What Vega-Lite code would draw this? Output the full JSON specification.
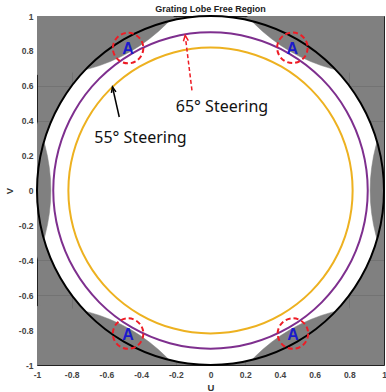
{
  "$schema": "https://vega.github.io/schema/vega-lite/v6.json",
  "width": 347,
  "height": 349,
  "autosize": {"type": "none"},
  "padding": {"left": 37, "top": 16, "right": 2, "bottom": 27},
  "background": "white",
  "title": {"text": "Grating Lobe Free Region", "fontSize": 9, "font": "Liberation Sans", "fontWeight": "bold", "color": "#222222", "offset": -2, "frame": "group"},
  "config": {
    "view": {"fill": "#808080", "stroke": "#262626", "strokeWidth": 1},
    "axis": {
      "labelFont": "Liberation Sans", "labelFontSize": 8.5, "labelFontWeight": "bold", "labelColor": "#444444",
      "titleFont": "Liberation Sans", "titleFontSize": 9.5, "titleFontWeight": "bold", "titleColor": "#333333",
      "domain": false, "ticks": false, "gridColor": "#000000", "gridOpacity": 0.1, "zindex": 1,
      "labelFlush": false, "labelOverlap": false, "labelBound": false,
      "values": [-1, -0.8, -0.6, -0.4, -0.2, 0, 0.2, 0.4, 0.6, 0.8, 1],
      "labelExpr": "datum.value == 0 ? '0' : (datum.value < 0 ? '-' : '') + format(abs(datum.value), '~g')"
    }
  },
  "datasets": {
    "circles": [
      {"c":"unit","i":0,"u":1,"v":0},{"c":"unit","i":1,"u":0.9659,"v":0.2588},{"c":"unit","i":2,"u":0.866,"v":0.5},{"c":"unit","i":3,"u":0.7071,"v":0.7071},{"c":"unit","i":4,"u":0.5,"v":0.866},{"c":"unit","i":5,"u":0.2588,"v":0.9659},{"c":"unit","i":6,"u":0,"v":1},{"c":"unit","i":7,"u":-0.2588,"v":0.9659},{"c":"unit","i":8,"u":-0.5,"v":0.866},{"c":"unit","i":9,"u":-0.7071,"v":0.7071},{"c":"unit","i":10,"u":-0.866,"v":0.5},{"c":"unit","i":11,"u":-0.9659,"v":0.2588},{"c":"unit","i":12,"u":-1,"v":0},{"c":"unit","i":13,"u":-0.9659,"v":-0.2588},{"c":"unit","i":14,"u":-0.866,"v":-0.5},{"c":"unit","i":15,"u":-0.7071,"v":-0.7071},{"c":"unit","i":16,"u":-0.5,"v":-0.866},{"c":"unit","i":17,"u":-0.2588,"v":-0.9659},{"c":"unit","i":18,"u":0,"v":-1},{"c":"unit","i":19,"u":0.2588,"v":-0.9659},{"c":"unit","i":20,"u":0.5,"v":-0.866},{"c":"unit","i":21,"u":0.7071,"v":-0.7071},{"c":"unit","i":22,"u":0.866,"v":-0.5},{"c":"unit","i":23,"u":0.9659,"v":-0.2588},
      {"c":"p","i":0,"u":0.9063,"v":0},{"c":"p","i":1,"u":0.8754,"v":0.2346},{"c":"p","i":2,"u":0.7849,"v":0.4532},{"c":"p","i":3,"u":0.6409,"v":0.6409},{"c":"p","i":4,"u":0.4532,"v":0.7849},{"c":"p","i":5,"u":0.2346,"v":0.8754},{"c":"p","i":6,"u":0,"v":0.9063},{"c":"p","i":7,"u":-0.2346,"v":0.8754},{"c":"p","i":8,"u":-0.4532,"v":0.7849},{"c":"p","i":9,"u":-0.6409,"v":0.6409},{"c":"p","i":10,"u":-0.7849,"v":0.4532},{"c":"p","i":11,"u":-0.8754,"v":0.2346},{"c":"p","i":12,"u":-0.9063,"v":0},{"c":"p","i":13,"u":-0.8754,"v":-0.2346},{"c":"p","i":14,"u":-0.7849,"v":-0.4532},{"c":"p","i":15,"u":-0.6409,"v":-0.6409},{"c":"p","i":16,"u":-0.4532,"v":-0.7849},{"c":"p","i":17,"u":-0.2346,"v":-0.8754},{"c":"p","i":18,"u":0,"v":-0.9063},{"c":"p","i":19,"u":0.2346,"v":-0.8754},{"c":"p","i":20,"u":0.4532,"v":-0.7849},{"c":"p","i":21,"u":0.6409,"v":-0.6409},{"c":"p","i":22,"u":0.7849,"v":-0.4532},{"c":"p","i":23,"u":0.8754,"v":-0.2346},
      {"c":"o","i":0,"u":0.8192,"v":0},{"c":"o","i":1,"u":0.7913,"v":0.212},{"c":"o","i":2,"u":0.7094,"v":0.4096},{"c":"o","i":3,"u":0.5793,"v":0.5793},{"c":"o","i":4,"u":0.4096,"v":0.7094},{"c":"o","i":5,"u":0.212,"v":0.7913},{"c":"o","i":6,"u":0,"v":0.8192},{"c":"o","i":7,"u":-0.212,"v":0.7913},{"c":"o","i":8,"u":-0.4096,"v":0.7094},{"c":"o","i":9,"u":-0.5793,"v":0.5793},{"c":"o","i":10,"u":-0.7094,"v":0.4096},{"c":"o","i":11,"u":-0.7913,"v":0.212},{"c":"o","i":12,"u":-0.8192,"v":0},{"c":"o","i":13,"u":-0.7913,"v":-0.212},{"c":"o","i":14,"u":-0.7094,"v":-0.4096},{"c":"o","i":15,"u":-0.5793,"v":-0.5793},{"c":"o","i":16,"u":-0.4096,"v":-0.7094},{"c":"o","i":17,"u":-0.212,"v":-0.7913},{"c":"o","i":18,"u":0,"v":-0.8192},{"c":"o","i":19,"u":0.212,"v":-0.7913},{"c":"o","i":20,"u":0.4096,"v":-0.7094},{"c":"o","i":21,"u":0.5793,"v":-0.5793},{"c":"o","i":22,"u":0.7094,"v":-0.4096},{"c":"o","i":23,"u":0.7913,"v":-0.212},
      {"c":"L1","i":0,"u":2.92,"v":0},{"c":"L1","i":1,"u":2.8859,"v":0.2588},{"c":"L1","i":2,"u":2.786,"v":0.5},{"c":"L1","i":3,"u":2.6271,"v":0.7071},{"c":"L1","i":4,"u":2.42,"v":0.866},{"c":"L1","i":5,"u":2.1788,"v":0.9659},{"c":"L1","i":6,"u":1.92,"v":1},{"c":"L1","i":7,"u":1.6612,"v":0.9659},{"c":"L1","i":8,"u":1.42,"v":0.866},{"c":"L1","i":9,"u":1.2129,"v":0.7071},{"c":"L1","i":10,"u":1.054,"v":0.5},{"c":"L1","i":11,"u":0.9541,"v":0.2588},{"c":"L1","i":12,"u":0.92,"v":0},{"c":"L1","i":13,"u":0.9541,"v":-0.2588},{"c":"L1","i":14,"u":1.054,"v":-0.5},{"c":"L1","i":15,"u":1.2129,"v":-0.7071},{"c":"L1","i":16,"u":1.42,"v":-0.866},{"c":"L1","i":17,"u":1.6612,"v":-0.9659},{"c":"L1","i":18,"u":1.92,"v":-1},{"c":"L1","i":19,"u":2.1788,"v":-0.9659},{"c":"L1","i":20,"u":2.42,"v":-0.866},{"c":"L1","i":21,"u":2.6271,"v":-0.7071},{"c":"L1","i":22,"u":2.786,"v":-0.5},{"c":"L1","i":23,"u":2.8859,"v":-0.2588},
      {"c":"L2","i":0,"u":-0.92,"v":0},{"c":"L2","i":1,"u":-0.9541,"v":0.2588},{"c":"L2","i":2,"u":-1.054,"v":0.5},{"c":"L2","i":3,"u":-1.2129,"v":0.7071},{"c":"L2","i":4,"u":-1.42,"v":0.866},{"c":"L2","i":5,"u":-1.6612,"v":0.9659},{"c":"L2","i":6,"u":-1.92,"v":1},{"c":"L2","i":7,"u":-2.1788,"v":0.9659},{"c":"L2","i":8,"u":-2.42,"v":0.866},{"c":"L2","i":9,"u":-2.6271,"v":0.7071},{"c":"L2","i":10,"u":-2.786,"v":0.5},{"c":"L2","i":11,"u":-2.8859,"v":0.2588},{"c":"L2","i":12,"u":-2.92,"v":0},{"c":"L2","i":13,"u":-2.8859,"v":-0.2588},{"c":"L2","i":14,"u":-2.786,"v":-0.5},{"c":"L2","i":15,"u":-2.6271,"v":-0.7071},{"c":"L2","i":16,"u":-2.42,"v":-0.866},{"c":"L2","i":17,"u":-2.1788,"v":-0.9659},{"c":"L2","i":18,"u":-1.92,"v":-1},{"c":"L2","i":19,"u":-1.6612,"v":-0.9659},{"c":"L2","i":20,"u":-1.42,"v":-0.866},{"c":"L2","i":21,"u":-1.2129,"v":-0.7071},{"c":"L2","i":22,"u":-1.054,"v":-0.5},{"c":"L2","i":23,"u":-0.9541,"v":-0.2588},
      {"c":"L3","i":0,"u":1.96,"v":1.663},{"c":"L3","i":1,"u":1.9259,"v":1.9218},{"c":"L3","i":2,"u":1.826,"v":2.163},{"c":"L3","i":3,"u":1.6671,"v":2.3701},{"c":"L3","i":4,"u":1.46,"v":2.529},{"c":"L3","i":5,"u":1.2188,"v":2.6289},{"c":"L3","i":6,"u":0.96,"v":2.663},{"c":"L3","i":7,"u":0.7012,"v":2.6289},{"c":"L3","i":8,"u":0.46,"v":2.529},{"c":"L3","i":9,"u":0.2529,"v":2.3701},{"c":"L3","i":10,"u":0.094,"v":2.163},{"c":"L3","i":11,"u":-0.0059,"v":1.9218},{"c":"L3","i":12,"u":-0.04,"v":1.663},{"c":"L3","i":13,"u":-0.0059,"v":1.4042},{"c":"L3","i":14,"u":0.094,"v":1.163},{"c":"L3","i":15,"u":0.2529,"v":0.9559},{"c":"L3","i":16,"u":0.46,"v":0.797},{"c":"L3","i":17,"u":0.7012,"v":0.6971},{"c":"L3","i":18,"u":0.96,"v":0.663},{"c":"L3","i":19,"u":1.2188,"v":0.6971},{"c":"L3","i":20,"u":1.46,"v":0.797},{"c":"L3","i":21,"u":1.6671,"v":0.9559},{"c":"L3","i":22,"u":1.826,"v":1.163},{"c":"L3","i":23,"u":1.9259,"v":1.4042},
      {"c":"L4","i":0,"u":0.04,"v":1.663},{"c":"L4","i":1,"u":0.0059,"v":1.9218},{"c":"L4","i":2,"u":-0.094,"v":2.163},{"c":"L4","i":3,"u":-0.2529,"v":2.3701},{"c":"L4","i":4,"u":-0.46,"v":2.529},{"c":"L4","i":5,"u":-0.7012,"v":2.6289},{"c":"L4","i":6,"u":-0.96,"v":2.663},{"c":"L4","i":7,"u":-1.2188,"v":2.6289},{"c":"L4","i":8,"u":-1.46,"v":2.529},{"c":"L4","i":9,"u":-1.6671,"v":2.3701},{"c":"L4","i":10,"u":-1.826,"v":2.163},{"c":"L4","i":11,"u":-1.9259,"v":1.9218},{"c":"L4","i":12,"u":-1.96,"v":1.663},{"c":"L4","i":13,"u":-1.9259,"v":1.4042},{"c":"L4","i":14,"u":-1.826,"v":1.163},{"c":"L4","i":15,"u":-1.6671,"v":0.9559},{"c":"L4","i":16,"u":-1.46,"v":0.797},{"c":"L4","i":17,"u":-1.2188,"v":0.6971},{"c":"L4","i":18,"u":-0.96,"v":0.663},{"c":"L4","i":19,"u":-0.7012,"v":0.6971},{"c":"L4","i":20,"u":-0.46,"v":0.797},{"c":"L4","i":21,"u":-0.2529,"v":0.9559},{"c":"L4","i":22,"u":-0.094,"v":1.163},{"c":"L4","i":23,"u":0.0059,"v":1.4042},
      {"c":"L5","i":0,"u":1.96,"v":-1.663},{"c":"L5","i":1,"u":1.9259,"v":-1.4042},{"c":"L5","i":2,"u":1.826,"v":-1.163},{"c":"L5","i":3,"u":1.6671,"v":-0.9559},{"c":"L5","i":4,"u":1.46,"v":-0.797},{"c":"L5","i":5,"u":1.2188,"v":-0.6971},{"c":"L5","i":6,"u":0.96,"v":-0.663},{"c":"L5","i":7,"u":0.7012,"v":-0.6971},{"c":"L5","i":8,"u":0.46,"v":-0.797},{"c":"L5","i":9,"u":0.2529,"v":-0.9559},{"c":"L5","i":10,"u":0.094,"v":-1.163},{"c":"L5","i":11,"u":-0.0059,"v":-1.4042},{"c":"L5","i":12,"u":-0.04,"v":-1.663},{"c":"L5","i":13,"u":-0.0059,"v":-1.9218},{"c":"L5","i":14,"u":0.094,"v":-2.163},{"c":"L5","i":15,"u":0.2529,"v":-2.3701},{"c":"L5","i":16,"u":0.46,"v":-2.529},{"c":"L5","i":17,"u":0.7012,"v":-2.6289},{"c":"L5","i":18,"u":0.96,"v":-2.663},{"c":"L5","i":19,"u":1.2188,"v":-2.6289},{"c":"L5","i":20,"u":1.46,"v":-2.529},{"c":"L5","i":21,"u":1.6671,"v":-2.3701},{"c":"L5","i":22,"u":1.826,"v":-2.163},{"c":"L5","i":23,"u":1.9259,"v":-1.9218},
      {"c":"L6","i":0,"u":0.04,"v":-1.663},{"c":"L6","i":1,"u":0.0059,"v":-1.4042},{"c":"L6","i":2,"u":-0.094,"v":-1.163},{"c":"L6","i":3,"u":-0.2529,"v":-0.9559},{"c":"L6","i":4,"u":-0.46,"v":-0.797},{"c":"L6","i":5,"u":-0.7012,"v":-0.6971},{"c":"L6","i":6,"u":-0.96,"v":-0.663},{"c":"L6","i":7,"u":-1.2188,"v":-0.6971},{"c":"L6","i":8,"u":-1.46,"v":-0.797},{"c":"L6","i":9,"u":-1.6671,"v":-0.9559},{"c":"L6","i":10,"u":-1.826,"v":-1.163},{"c":"L6","i":11,"u":-1.9259,"v":-1.4042},{"c":"L6","i":12,"u":-1.96,"v":-1.663},{"c":"L6","i":13,"u":-1.9259,"v":-1.9218},{"c":"L6","i":14,"u":-1.826,"v":-2.163},{"c":"L6","i":15,"u":-1.6671,"v":-2.3701},{"c":"L6","i":16,"u":-1.46,"v":-2.529},{"c":"L6","i":17,"u":-1.2188,"v":-2.6289},{"c":"L6","i":18,"u":-0.96,"v":-2.663},{"c":"L6","i":19,"u":-0.7012,"v":-2.6289},{"c":"L6","i":20,"u":-0.46,"v":-2.529},{"c":"L6","i":21,"u":-0.2529,"v":-2.3701},{"c":"L6","i":22,"u":-0.094,"v":-2.163},{"c":"L6","i":23,"u":0.0059,"v":-1.9218}
    ],
    "marksA": [
      {"u":-0.475,"v":0.816},{"u":0.472,"v":0.818},{"u":-0.475,"v":-0.82},{"u":0.475,"v":-0.82}
    ],
    "arrows": [
      {"a":"rs","i":0,"u":-0.107,"v":0.574},{"a":"rs","i":1,"u":-0.143,"v":0.865},
      {"a":"rh","i":0,"u":-0.156,"v":0.855},{"a":"rh","i":1,"u":-0.146,"v":0.889},{"a":"rh","i":2,"u":-0.128,"v":0.859},
      {"a":"bs","i":0,"u":-0.526,"v":0.421},{"a":"bs","i":1,"u":-0.565,"v":0.593},
      {"a":"bh","i":0,"u":-0.571,"v":0.559},{"a":"bh","i":1,"u":-0.565,"v":0.593},{"a":"bh","i":2,"u":-0.545,"v":0.565}
    ],
    "labels": [
      {"t":"65° Steering","u":-0.2,"v":0.448},
      {"t":"55° Steering","u":-0.67,"v":0.272}
    ]
  },
  "encoding": {
    "x": {"field":"u","type":"quantitative","scale":{"domain":[-1,1],"nice":false,"zero":false},"axis":{"title":"U","labelPadding":5,"titlePadding":4}},
    "y": {"field":"v","type":"quantitative","scale":{"domain":[-1,1],"nice":false,"zero":false},"axis":{"title":"V","labelPadding":4,"titlePadding":4}}
  },
  "layer": [
    {"data":{"name":"circles"},"transform":[{"filter":"datum.c == 'unit'"}],
     "mark":{"type":"line","interpolate":"cardinal-closed","fill":"white","stroke":"white","strokeWidth":0.5,"clip":true},
     "encoding":{"order":{"field":"i","type":"quantitative"}}},
    {"data":{"name":"circles"},"transform":[{"filter":"test(/^L/, datum.c)"}],
     "mark":{"type":"line","interpolate":"cardinal-closed","fill":"#808080","stroke":"#808080","strokeWidth":0.5,"clip":true},
     "encoding":{"detail":{"field":"c"},"order":{"field":"i","type":"quantitative"}}},
    {"data":{"name":"circles"},"transform":[{"filter":"datum.c == 'unit'"}],
     "mark":{"type":"line","interpolate":"cardinal-closed","stroke":"#000000","strokeWidth":2},
     "encoding":{"order":{"field":"i","type":"quantitative"}}},
    {"data":{"name":"circles"},"transform":[{"filter":"datum.c == 'p'"}],
     "mark":{"type":"line","interpolate":"cardinal-closed","stroke":"#7E2F8E","strokeWidth":2},
     "encoding":{"order":{"field":"i","type":"quantitative"}}},
    {"data":{"name":"circles"},"transform":[{"filter":"datum.c == 'o'"}],
     "mark":{"type":"line","interpolate":"cardinal-closed","stroke":"#EDB120","strokeWidth":2},
     "encoding":{"order":{"field":"i","type":"quantitative"}}},
    {"data":{"name":"marksA"},
     "mark":{"type":"point","shape":"circle","size":930,"filled":false,"stroke":"#EE1C25","strokeWidth":2,"strokeDash":[5,3],"opacity":1}},
    {"data":{"name":"marksA"},
     "mark":{"type":"text","text":"A","font":"Liberation Sans","fontSize":16,"fontWeight":"bold","color":"#1A1ACC","align":"center","baseline":"middle","dy":1}},
    {"data":{"name":"arrows"},"transform":[{"filter":"datum.a == 'rs'"}],
     "mark":{"type":"line","stroke":"#EE1C25","strokeWidth":1.5,"strokeDash":[4,2.5]},
     "encoding":{"order":{"field":"i","type":"quantitative"}}},
    {"data":{"name":"arrows"},"transform":[{"filter":"datum.a == 'rh'"}],
     "mark":{"type":"line","stroke":"#EE1C25","strokeWidth":1.5},
     "encoding":{"order":{"field":"i","type":"quantitative"}}},
    {"data":{"name":"arrows"},"transform":[{"filter":"datum.a == 'bs' || datum.a == 'bh'"}],
     "mark":{"type":"line","stroke":"#000000","strokeWidth":1.5},
     "encoding":{"detail":{"field":"a"},"order":{"field":"i","type":"quantitative"}}},
    {"data":{"name":"labels"},
     "mark":{"type":"text","font":"Noto Sans","fontSize":16,"color":"#111111","align":"left","baseline":"alphabetic"},
     "encoding":{"text":{"field":"t"}}}
  ]
}
